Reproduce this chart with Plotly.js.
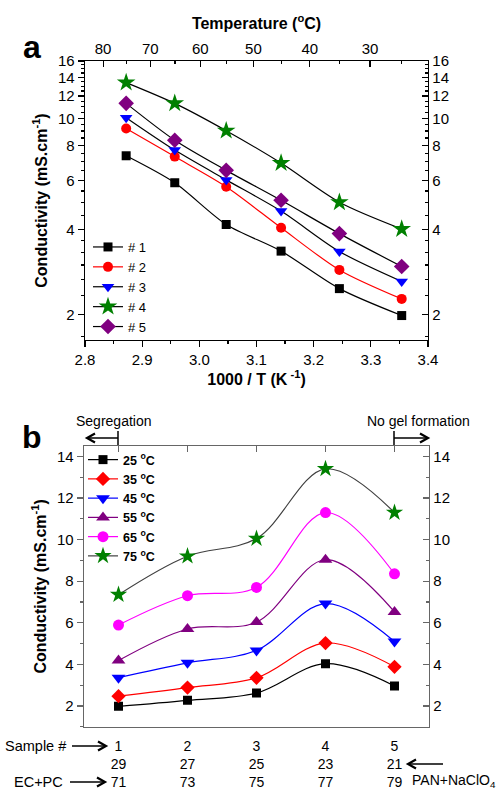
<!DOCTYPE html>
<html><head><meta charset="utf-8">
<script src="https://cdn.plot.ly/plotly-3.0.1.min.js"></script>
<style>html,body{margin:0;padding:0;background:#fff}#chart{width:497px;height:789px}</style>
</head><body><div id="chart"></div>
<script>
// ---------- data ----------
// Panel a: conductivity (mS/cm) of each sample at these temperatures
const tempsC = [75, 65, 55, 45, 35, 25];
const invT = [2.872, 2.957, 3.047, 3.143, 3.245, 3.354]; // 1000/T (K^-1)
const sample1 = [7.35, 5.89, 4.18, 3.36, 2.47, 1.98];
const sample2 = [9.2, 7.3, 5.7, 4.07, 2.88, 2.27];
const sample3 = [10.05, 7.7, 6.03, 4.67, 3.35, 2.62];
const sample4 = [13.4, 11.3, 9.03, 6.92, 5.02, 4.03];
const sample5 = [11.3, 8.35, 6.52, 5.1, 3.88, 2.96];
const sampleNames = ['# 1', '# 2', '# 3', '# 4', '# 5'];

// Panel b: category labels
const sampleNo = [1, 2, 3, 4, 5];
const panSalt = [29, 27, 25, 23, 21];   // PAN+NaClO4
const ecpc = [71, 73, 75, 77, 79];      // EC+PC
const legendTemps = [25, 35, 45, 55, 65, 75];

// top axis of panel a (temperature in degC)
const topTemps = [80, 70, 60, 50, 40, 30];
const topMinorTemps = [75, 65, 55, 45, 35, 25];

// ---------- styles ----------
const aStyles = [
  {sym: 'square', mc: '#000000', lc: '#000000', size: 9},
  {sym: 'circle', mc: '#ff0000', lc: '#ff0000', size: 10},
  {sym: 'triangle-down', mc: '#0000ff', lc: '#000000', size: 11},
  {sym: 'star', mc: '#008000', lc: '#000000', size: 14},
  {sym: 'diamond', mc: '#800080', lc: '#000000', size: 12}
];
const bStyles = [
  {sym: 'square', mc: '#000000', lc: '#000000', size: 9},
  {sym: 'diamond', mc: '#ff0000', lc: '#ff0000', size: 11},
  {sym: 'triangle-down', mc: '#0000ff', lc: '#0000ff', size: 12},
  {sym: 'triangle-up', mc: '#800080', lc: '#800080', size: 12},
  {sym: 'circle', mc: '#ff00ff', lc: '#ff00ff', size: 11},
  {sym: 'star', mc: '#008000', lc: '#404040', size: 13}
];

const samples = [sample1, sample2, sample3, sample4, sample5];
const traces = [];

samples.forEach((s, k) => {
  const st = aStyles[k];
  traces.push({
    type: 'scatter', mode: 'lines+markers', x: invT, y: s, name: sampleNames[k],
    xaxis: 'x', yaxis: 'y', legend: 'legend',
    line: {color: st.lc, width: 1.2, shape: 'spline', smoothing: 0.8},
    marker: {symbol: st.sym, color: st.mc, size: st.size, line: {width: 0}}
  });
});

legendTemps.forEach((t, k) => {
  const i = tempsC.indexOf(t);
  const st = bStyles[k];
  traces.push({
    type: 'scatter', mode: 'lines+markers', x: sampleNo, y: samples.map(s => s[i]),
    name: '<b>' + t + ' <sup>o</sup>C</b>',
    xaxis: 'x3', yaxis: 'y3', legend: 'legend2',
    line: {color: st.lc, width: 1.2, shape: 'spline', smoothing: 1},
    marker: {symbol: st.sym, color: st.mc, size: st.size, line: {width: 0}}
  });
});

// empty helper traces so overlay axes are drawn
[['x2', 'y'], ['x', 'y2'], ['x4', 'y3'], ['x3', 'y4']].forEach(p => {
  traces.push({type: 'scatter', mode: 'markers', x: [], y: [], xaxis: p[0], yaxis: p[1], showlegend: false, hoverinfo: 'skip'});
});

// ---------- layout ----------
const W = 497, H = 789;
const px = v => v / W;
const py = v => 1 - v / H;
const toInv = t => 1000 / (t + 273.15);

const logMinor = [1.67];
for (let v = 2 + 1/3; v < 4 - 1e-6; v += 1/3) logMinor.push(+v.toFixed(3));
for (let v = 4.5; v < 16; v += 0.5) if (v % 2 !== 0) logMinor.push(v);

const fam = 'Liberation Sans, Arial, sans-serif';
const lineA = {showline: true, linecolor: '#000', linewidth: 1.3, showgrid: false, zeroline: false,
  tickcolor: '#000', tickwidth: 1.2, tickfont: {size: 15, color: '#000'}};
const lineB = {showline: true, linecolor: '#666', linewidth: 1.3, showgrid: false, zeroline: false,
  tickcolor: '#666', tickwidth: 1.2, tickfont: {size: 15, color: '#000'}};

const yRangeA = [Math.log10(1.62), Math.log10(16)];
const yTicksA = [2, 4, 6, 8, 10, 12, 14, 16];

// arrows drawn as shapes (pixel coordinates converted to paper)
function arrow(x0, x1, y, bar) {
  // x0: tail, x1: head (pixels)
  const dir = x1 > x0 ? -1 : 1;
  const out = [
    {type: 'line', xref: 'paper', yref: 'paper', x0: px(x0), x1: px(x1 + dir * 1.5), y0: py(y), y1: py(y), line: {color: '#000', width: 1.5}},
    {type: 'path', xref: 'paper', yref: 'paper',
      path: 'M' + px(x1 + dir * 8) + ',' + py(y - 4.5) + ' L' + px(x1) + ',' + py(y) + ' L' + px(x1 + dir * 8) + ',' + py(y + 4.5),
      line: {color: '#000', width: 2.2}}
  ];
  if (bar) out.push({type: 'line', xref: 'paper', yref: 'paper', x0: px(x0), x1: px(x0), y0: py(y - 7), y1: py(y + 7), line: {color: '#000', width: 1.5}});
  return out;
}

const shapes = [].concat(
  arrow(118, 87, 438, true),
  arrow(394, 428, 438, true),
  arrow(72, 106, 746, false),
  arrow(70, 105, 782, false),
  arrow(443, 408, 764, false)
);

const layout = {
  width: W, height: H, margin: {l: 0, r: 0, t: 0, b: 0},
  paper_bgcolor: '#fff', plot_bgcolor: 'rgba(0,0,0,0)',
  font: {family: fam, size: 15, color: '#000'},
  showlegend: true,
  xaxis: Object.assign({}, lineA, {
    domain: [px(85), px(428)], anchor: 'y', range: [2.8, 3.4],
    tick0: 2.8, dtick: 0.1, tickformat: '.1f', ticks: 'outside', ticklen: 6,
    minor: {dtick: 0.05, tick0: 2.8, ticks: 'outside', ticklen: 3, tickcolor: '#000'},
    title: {text: '<b>1000 / T (K<sup> -1</sup>)</b>', font: {size: 16}, standoff: 3}
  }),
  xaxis2: Object.assign({}, lineA, {
    overlaying: 'x', anchor: 'y', side: 'top', range: [2.8, 3.4],
    tickmode: 'array', tickvals: topTemps.map(toInv), ticktext: topTemps.map(String),
    ticks: 'inside', ticklen: 6,
    minor: {tickmode: 'array', tickvals: topMinorTemps.map(toInv), ticks: 'inside', ticklen: 3, tickcolor: '#000'},
    title: {text: '<b>Temperature (<sup>o</sup>C)</b>', font: {size: 16}, standoff: 6}
  }),
  yaxis: Object.assign({}, lineA, {
    domain: [py(340), py(61)], anchor: 'x', type: 'log', range: yRangeA,
    tickmode: 'array', tickvals: yTicksA, ticktext: yTicksA.map(String),
    ticks: 'outside', ticklen: 6,
    minor: {tickmode: 'array', tickvals: logMinor, ticks: 'outside', ticklen: 3, tickcolor: '#000'},
    title: {text: '<b>Conductivity (mS.cm<sup>-1</sup>)</b>', font: {size: 16}, standoff: 6}
  }),
  yaxis2: Object.assign({}, lineA, {
    overlaying: 'y', anchor: 'x', side: 'right', type: 'log', range: yRangeA,
    tickmode: 'array', tickvals: yTicksA, ticktext: yTicksA.map(String),
    ticks: 'inside', ticklen: 6,
    minor: {tickmode: 'array', tickvals: logMinor, ticks: 'inside', ticklen: 3, tickcolor: '#000'}
  }),
  xaxis3: Object.assign({}, lineB, {
    domain: [px(84), px(429)], anchor: 'y3', range: [0.5, 5.5],
    tickmode: 'array', tickvals: sampleNo,
    ticktext: sampleNo.map((n, i) => n + '<br>' + panSalt[i] + '<br>' + ecpc[i]),
    tickfont: {size: 14, color: '#000'},
    ticks: '', ticklabelstandoff: 6
  }),
  xaxis4: Object.assign({}, lineB, {
    overlaying: 'x3', anchor: 'y3', side: 'top', range: [0.5, 5.5],
    tickmode: 'array', tickvals: sampleNo, showticklabels: false,
    ticks: 'inside', ticklen: 6
  }),
  yaxis3: Object.assign({}, lineB, {
    domain: [py(726.7), py(446)], anchor: 'x3', range: [1.0, 14.5],
    tick0: 2, dtick: 2, ticks: 'outside', ticklen: 6,
    minor: {tick0: 1, dtick: 1, ticks: 'outside', ticklen: 3, tickcolor: '#666'},
    title: {text: '<b>Conductivity (mS.cm<sup>-1</sup>)</b>', font: {size: 16}, standoff: 6}
  }),
  yaxis4: Object.assign({}, lineB, {
    overlaying: 'y3', anchor: 'x3', side: 'right', range: [1.0, 14.5],
    tick0: 2, dtick: 2, ticks: 'inside', ticklen: 6,
    minor: {tick0: 1, dtick: 1, ticks: 'inside', ticklen: 3, tickcolor: '#666'}
  }),
  legend: {x: px(88), y: py(232), xanchor: 'left', yanchor: 'top', bgcolor: 'rgba(0,0,0,0)',
    borderwidth: 0, font: {size: 13, color: '#000'}, tracegroupgap: 0},
  legend2: {x: px(83), y: py(445), xanchor: 'left', yanchor: 'top', bgcolor: 'rgba(0,0,0,0)',
    borderwidth: 0, font: {size: 12.5, color: '#000'}, tracegroupgap: 0},
  annotations: [
    {text: '<b>a</b>', xref: 'paper', yref: 'paper', x: px(32), y: py(47), showarrow: false, font: {size: 32}, xanchor: 'center', yanchor: 'middle'},
    {text: '<b>b</b>', xref: 'paper', yref: 'paper', x: px(32), y: py(437), showarrow: false, font: {size: 32}, xanchor: 'center', yanchor: 'middle'},
    {text: 'Segregation', xref: 'paper', yref: 'paper', x: px(114), y: py(421), showarrow: false, font: {size: 14}, xanchor: 'center', yanchor: 'middle'},
    {text: 'No gel formation', xref: 'paper', yref: 'paper', x: px(418), y: py(421), showarrow: false, font: {size: 14}, xanchor: 'center', yanchor: 'middle'},
    {text: 'Sample #', xref: 'paper', yref: 'paper', x: px(68), y: py(746), showarrow: false, font: {size: 14.5}, xanchor: 'right', yanchor: 'middle'},
    {text: 'EC+PC', xref: 'paper', yref: 'paper', x: px(65), y: py(782), showarrow: false, font: {size: 14.5}, xanchor: 'right', yanchor: 'middle'},
    {text: 'PAN+NaClO<sub>4</sub>', xref: 'paper', yref: 'paper', x: px(410), y: py(781), showarrow: false, font: {size: 14}, xanchor: 'left', yanchor: 'middle'}
  ],
  shapes: shapes
};

Plotly.newPlot('chart', traces, layout, {staticPlot: true, displayModeBar: false});
</script>
</body></html>
